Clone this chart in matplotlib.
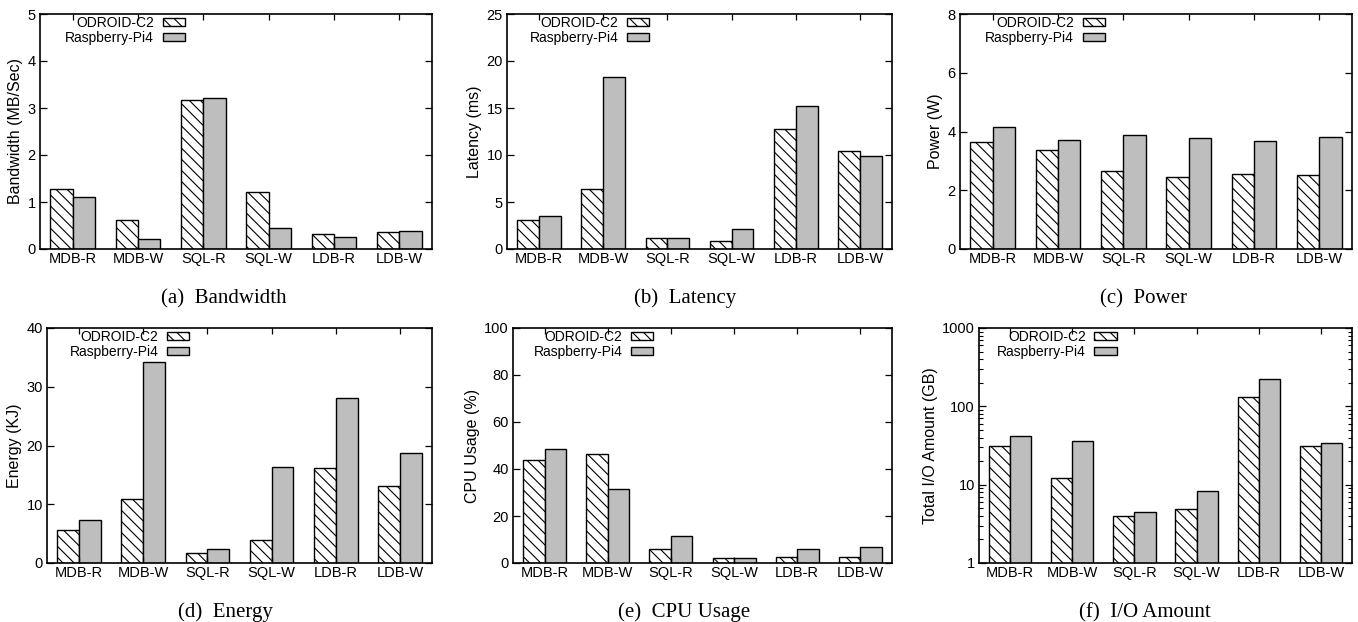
import numpy as np
import matplotlib
matplotlib.use('Agg')
import matplotlib.pyplot as plt
from matplotlib import font_manager
from matplotlib.ticker import LogLocator, NullFormatter

# --- DATA ---
workloads = ['MDB-R', 'MDB-W', 'SQL-R', 'SQL-W', 'LDB-R', 'LDB-W']
devices = ['ODROID-C2', 'Raspberry-Pi4']

bw_odroid = [1.27, 0.61, 3.18, 1.21, 0.31, 0.37]
bw_pi4 = [1.11, 0.22, 3.22, 0.45, 0.26, 0.39]

lat_odroid = [3.06, 6.37, 1.2, 0.81, 12.75, 10.39]
lat_pi4 = [3.52, 18.35, 1.2, 2.15, 15.25, 9.9]

pow_odroid = [3.65, 3.37, 2.67, 2.45, 2.55, 2.52]
pow_pi4 = [4.16, 3.71, 3.89, 3.79, 3.67, 3.81]

energy_odroid = [5.6, 10.85, 1.64, 3.95, 16.2, 13.16]
energy_pi4 = [7.34, 34.2, 2.37, 16.4, 28.1, 18.8]

cpu_odroid = [43.8, 46.5, 5.9, 2.1, 2.7, 2.4]
cpu_pi4 = [48.3, 31.5, 11.4, 2.1, 5.9, 7.0]

io_odroid = [31.2, 12.0, 4.02, 4.84, 130, 31.2]
io_pi4 = [41.8, 36.1, 4.48, 8.2, 221, 33.7]

ylabels = ['Bandwidth (MB/Sec)', 'Latency (ms)', 'Power (W)',
           'Energy (KJ)', 'CPU Usage (%)', 'Total I/O Amount (GB)']
captions = ['(a)  Bandwidth', '(b)  Latency', '(c)  Power',
            '(d)  Energy', '(e)  CPU Usage', '(f)  I/O Amount']
ylims = [(0, 5), (0, 25), (0, 8), (0, 40), (0, 100), (1, 1000)]
ysteps = [1, 5, 2, 10, 20, None]

series = [(bw_odroid, bw_pi4), (lat_odroid, lat_pi4), (pow_odroid, pow_pi4),
          (energy_odroid, energy_pi4), (cpu_odroid, cpu_pi4), (io_odroid, io_pi4)]

# --- LAYOUT (pixel boxes from the reference: left, top, right, bottom) ---
W, H = 1358, 622
boxes = [(40, 14, 432, 249), (507, 14, 892, 249), (960, 14, 1352, 249),
         (47, 328, 432, 563), (513, 328, 892, 563), (979, 328, 1352, 563)]
cap_x = [224, 685, 1144, 225, 684, 1145]
cap_y = [303, 303, 303, 617, 617, 617]

# --- FONTS --- use the regular Liberation Sans file (not the Narrow one)
sans_path = None
for f in font_manager.findSystemFonts():
    if f.endswith('LiberationSans-Regular.ttf'):
        sans_path = f
        break
if sans_path is not None:
    font_manager.fontManager.addfont(sans_path)
    sans_name = font_manager.FontProperties(fname=sans_path).get_name()
    plt.rcParams['font.family'] = [sans_name, 'DejaVu Sans']
else:
    plt.rcParams['font.family'] = ['Liberation Sans', 'DejaVu Sans']


def sans(size):
    if sans_path is not None:
        return font_manager.FontProperties(fname=sans_path, size=size)
    return font_manager.FontProperties(family='Liberation Sans', size=size)


plt.rcParams['hatch.linewidth'] = 0.8
plt.rcParams['axes.linewidth'] = 1.2

fig = plt.figure(figsize=(W / 100, H / 100), dpi=100)

x = np.arange(len(workloads))
bw = 0.34

for i in range(6):
    l, t, r, b = boxes[i]
    ax = fig.add_axes([l / W, 1 - b / H, (r - l) / W, (b - t) / H])
    od, pi = series[i]

    if i == 5:
        ax.set_yscale('log')
    ax.bar(x - bw / 2, od, bw, color='white', edgecolor='black',
           hatch='\\\\\\', linewidth=1.0, label=devices[0])
    ax.bar(x + bw / 2, pi, bw, color='#bebebe', edgecolor='black',
           linewidth=1.0, label=devices[1])

    ax.set_xlim(-0.5, len(workloads) - 0.5)
    ax.set_ylim(*ylims[i])
    ax.set_xticks(x)
    if ysteps[i] is not None:
        ticks = np.arange(ylims[i][0], ylims[i][1] + ysteps[i] / 2, ysteps[i])
        ax.set_yticks(ticks)
        ytl = ['%g' % v for v in ticks]
    else:
        ax.yaxis.set_minor_locator(LogLocator(base=10, subs=np.arange(2, 10)))
        ax.yaxis.set_minor_formatter(NullFormatter())
        ax.set_yticks([1, 10, 100, 1000])
        ytl = ['1', '10', '100', '1000']
    ax.set_yticklabels(ytl, fontproperties=sans(10.5))
    ax.set_xticklabels(workloads, fontproperties=sans(10.5))

    ax.tick_params(axis='both', which='major', direction='in', length=5,
                   width=0.9, top=True, right=True, pad=3)
    ax.tick_params(axis='both', which='minor', direction='in', length=3,
                   width=0.8, top=False, right=True)
    ax.tick_params(axis='x', length=4, pad=2)
    ax.set_ylabel(ylabels[i], fontproperties=sans(11.5), labelpad=3)

    ax.legend(loc='upper right', bbox_to_anchor=(0.38, 1.01), frameon=False,
              markerfirst=False, prop=sans(10), handlelength=1.6,
              handleheight=0.55, labelspacing=0.08, handletextpad=0.6,
              borderpad=0.2, borderaxespad=0.1)

    fig.text(cap_x[i] / W, 1 - cap_y[i] / H, captions[i], ha='center',
             va='baseline', fontsize=15, family=['Liberation Serif', 'DejaVu Serif'])

fig.savefig('out.png', dpi=100)
